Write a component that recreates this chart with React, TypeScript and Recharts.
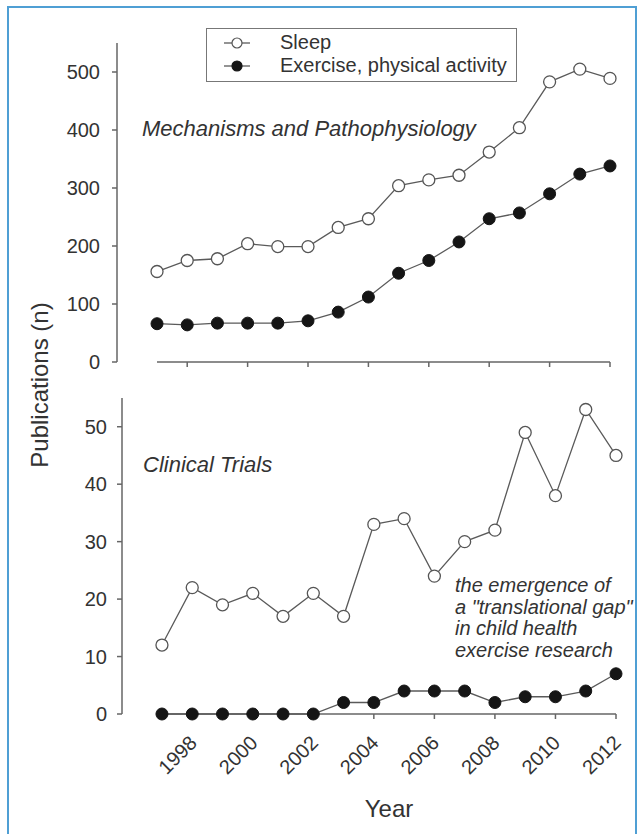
import React from "react";
import { LineChart, Line, XAxis, YAxis, ReferenceLine, Legend } from "recharts";

const YEARS = [1997, 1998, 1999, 2000, 2001, 2002, 2003, 2004, 2005, 2006, 2007, 2008, 2009, 2010, 2011, 2012];
const EVEN_YEARS = [1998, 2000, 2002, 2004, 2006, 2008, 2010, 2012];

// Mechanisms and Pathophysiology
const MECH_SLEEP = [156, 175, 178, 204, 199, 199, 232, 247, 304, 314, 322, 362, 404, 483, 505, 489];
const MECH_EXERCISE = [66, 64, 67, 67, 67, 71, 86, 112, 153, 175, 207, 247, 257, 290, 324, 338];
const MECH_TICKS = [0, 100, 200, 300, 400, 500];

// Clinical Trials
const TRIAL_SLEEP = [12, 22, 19, 21, 17, 21, 17, 33, 34, 24, 30, 32, 49, 38, 53, 45];
const TRIAL_EXERCISE = [0, 0, 0, 0, 0, 0, 2, 2, 4, 4, 4, 2, 3, 3, 4, 7];
const TRIAL_TICKS = [0, 10, 20, 30, 40, 50];

const SERIES_ORDER = ["sleep", "exercise"];
const GAP_NOTE = ["the emergence of", "a \"translational gap\"", "in child health", "exercise research"];

const mechData = YEARS.map((year, i) => ({ year, sleep: MECH_SLEEP[i], exercise: MECH_EXERCISE[i] }));
const trialData = YEARS.map((year, i) => ({ year, sleep: TRIAL_SLEEP[i], exercise: TRIAL_EXERCISE[i] }));

const FONT = "'Liberation Sans', Arial, Helvetica, sans-serif";
const TEXT = "#333";
const AXIS = "#666";
const LINE = "#5a5a5a";

const sleepDot = { r: 6, fill: "#fff", stroke: "#555", strokeWidth: 1.3 };
const exerciseDot = { r: 6, fill: "#151515", stroke: "#151515", strokeWidth: 1 };

function YearTick({ x, y, payload }: any) {
  const ax = x + 6;
  const ay = y + 25;
  return (
    <text
      x={ax}
      y={ay}
      transform={`rotate(-45 ${ax} ${ay})`}
      textAnchor="end"
      fontSize={20}
      fill={TEXT}
      fontFamily={FONT}
    >
      {payload.value}
    </text>
  );
}

function NoLabel() {
  return <g />;
}

function LegendBox({ payload }: any) {
  const items = [...(payload || [])].sort(
    (a: any, b: any) => SERIES_ORDER.indexOf(a.dataKey) - SERIES_ORDER.indexOf(b.dataKey)
  );
  return (
    <div
      style={{
        width: 309,
        height: 50,
        border: "1px solid #777",
        background: "#fff",
        fontFamily: FONT,
        fontSize: 20,
        color: TEXT,
        paddingTop: 2,
        boxSizing: "content-box",
      }}
    >
      {items.map((entry: any) => {
        const filled = entry.dataKey === "exercise";
        return (
          <div key={entry.value} style={{ display: "flex", alignItems: "center", height: 23 }}>
            <svg width={28} height={14} style={{ marginLeft: 16 }}>
              <line x1={1} y1={7} x2={27} y2={7} stroke={LINE} strokeWidth={1.3} />
              <circle cx={14} cy={7} r={5} fill={filled ? "#151515" : "#fff"} stroke={filled ? "#151515" : "#555"} strokeWidth={1.2} />
            </svg>
            <span style={{ marginLeft: 29, lineHeight: "23px" }}>{entry.value}</span>
          </div>
        );
      })}
    </div>
  );
}

export default function App() {
  const tickStyle = { fill: TEXT, fontSize: 20, fontFamily: FONT };
  return (
    <div style={{ position: "relative", width: 642, height: 834, background: "#fff", overflow: "hidden" }}>
      <style>{`body{margin:0;}`}</style>
      <div
        style={{
          position: "absolute",
          left: 7,
          top: 6,
          width: 626,
          height: 840,
          borderLeft: "2.5px solid #4f9fd4",
          borderTop: "2.5px solid #4f9fd4",
          borderRight: "2.5px solid #4f9fd4",
        }}
      />

      <div style={{ position: "absolute", left: 0, top: 0 }}>
        <LineChart width={642} height={380} data={mechData} margin={{ top: 43, right: 32, bottom: 8, left: 57 }}>
          <XAxis
            dataKey="year"
            type="number"
            domain={[1995.675, 2012]}
            ticks={EVEN_YEARS}
            axisLine={false}
            tick={<NoLabel />}
            tickLine={{ stroke: AXIS, strokeWidth: 1.5 }}
            tickSize={5}
            height={10}
          />
          <YAxis
            type="number"
            domain={[0, 550]}
            ticks={MECH_TICKS}
            width={60}
            axisLine={{ stroke: AXIS, strokeWidth: 1.5 }}
            tickLine={{ stroke: AXIS, strokeWidth: 1.5 }}
            tickSize={5}
            tickMargin={12}
            tick={tickStyle}
          />
          <ReferenceLine
            segment={[{ x: 1997, y: 0 }, { x: 2012, y: 0 }]}
            stroke={AXIS}
            strokeWidth={1.5}
          />
          <Legend
            layout="horizontal"
            verticalAlign="middle"
            align="center"
            content={<LegendBox />}
            wrapperStyle={{ position: "absolute", left: 206, top: 28, width: 311, height: 52 }}
          />
          <Line
            dataKey="sleep"
            name="Sleep"
            stroke={LINE}
            strokeWidth={1.3}
            dot={sleepDot}
            isAnimationActive={false}
          />
          <Line
            dataKey="exercise"
            name="Exercise, physical activity"
            stroke={LINE}
            strokeWidth={1.3}
            dot={exerciseDot}
            isAnimationActive={false}
          />
        </LineChart>
      </div>

      <div style={{ position: "absolute", left: 0, top: 380 }}>
        <LineChart width={642} height={454} data={trialData} margin={{ top: 18, right: 26, bottom: 60, left: 62 }}>
          <XAxis
            dataKey="year"
            type="number"
            domain={[1995.68, 2012]}
            ticks={EVEN_YEARS}
            axisLine={false}
            tick={<YearTick />}
            tickLine={{ stroke: AXIS, strokeWidth: 1.5 }}
            tickSize={5}
            tickMargin={0}
            height={60}
          />
          <YAxis
            type="number"
            domain={[0, 55]}
            ticks={TRIAL_TICKS}
            width={60}
            axisLine={{ stroke: AXIS, strokeWidth: 1.5 }}
            tickLine={{ stroke: AXIS, strokeWidth: 1.5 }}
            tickSize={5}
            tickMargin={10}
            tick={tickStyle}
          />
          <ReferenceLine
            segment={[{ x: 1997, y: 0 }, { x: 2012, y: 0 }]}
            stroke={AXIS}
            strokeWidth={1.5}
          />
          <Line
            dataKey="sleep"
            name="Sleep"
            stroke={LINE}
            strokeWidth={1.3}
            dot={sleepDot}
            isAnimationActive={false}
          />
          <Line
            dataKey="exercise"
            name="Exercise, physical activity"
            stroke={LINE}
            strokeWidth={1.3}
            dot={exerciseDot}
            isAnimationActive={false}
          />
        </LineChart>
      </div>

      <svg
        width={642}
        height={834}
        style={{ position: "absolute", left: 0, top: 0, pointerEvents: "none" }}
        fontFamily={FONT}
        fill={TEXT}
      >
        <text x={142} y={136} fontSize={22} fontStyle="italic">
          Mechanisms and Pathophysiology
        </text>
        <text x={143} y={472} fontSize={22} fontStyle="italic">
          Clinical Trials
        </text>
        {GAP_NOTE.map((line, i) => (
          <text key={line} x={455} y={592 + i * 21.5} fontSize={20} fontStyle="italic">
            {line}
          </text>
        ))}
        <text x={389} y={817} fontSize={24} textAnchor="middle">
          Year
        </text>
        <text x={48} y={385} fontSize={24} textAnchor="middle" transform="rotate(-90 48 385)">
          Publications (n)
        </text>
      </svg>
    </div>
  );
}
